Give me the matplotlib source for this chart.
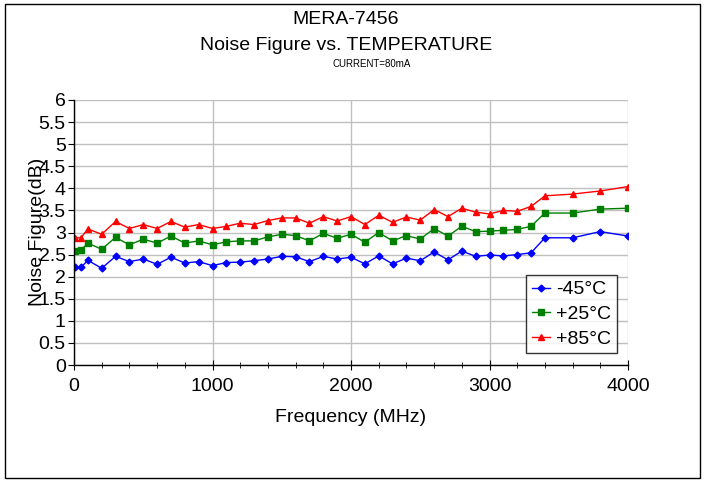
import numpy as np
import matplotlib
matplotlib.use('Agg')
import matplotlib.pyplot as plt
from matplotlib.patches import Rectangle
from matplotlib.ticker import MultipleLocator

plt.rcParams['font.family'] = ['Liberation Sans', 'DejaVu Sans']

# Frecuencias (MHz)
freq = [10, 50, 100, 200, 300, 400, 500, 600, 700, 800, 900, 1000, 1100, 1200,
        1300, 1400, 1500, 1600, 1700, 1800, 1900, 2000, 2100, 2200, 2300, 2400,
        2500, 2600, 2700, 2800, 2900, 3000, 3100, 3200, 3300, 3400, 3600, 3800, 4000]

nf_m45 = [2.22, 2.21, 2.37, 2.19, 2.46, 2.34, 2.40, 2.28, 2.44, 2.31, 2.34, 2.25, 2.32,
          2.33, 2.36, 2.40, 2.46, 2.45, 2.34, 2.46, 2.40, 2.44, 2.29, 2.47, 2.29, 2.42,
          2.36, 2.56, 2.38, 2.58, 2.46, 2.49, 2.47, 2.50, 2.54, 2.88, 2.88, 3.02, 2.92]

nf_p25 = [2.58, 2.60, 2.76, 2.62, 2.89, 2.72, 2.85, 2.76, 2.92, 2.76, 2.81, 2.72, 2.79,
          2.81, 2.81, 2.90, 2.96, 2.93, 2.81, 2.98, 2.87, 2.96, 2.78, 3.00, 2.81, 2.93,
          2.85, 3.09, 2.92, 3.14, 3.02, 3.03, 3.05, 3.07, 3.14, 3.44, 3.44, 3.53, 3.55]

nf_p85 = [2.88, 2.88, 3.08, 2.96, 3.25, 3.09, 3.18, 3.09, 3.25, 3.12, 3.18, 3.09, 3.14,
          3.21, 3.18, 3.27, 3.33, 3.33, 3.21, 3.36, 3.26, 3.36, 3.18, 3.39, 3.23, 3.35,
          3.28, 3.52, 3.36, 3.55, 3.46, 3.42, 3.50, 3.48, 3.59, 3.83, 3.87, 3.94, 4.04]

series_labels = ['-45°C', '+25°C', '+85°C']

fig = plt.figure(figsize=(7.04, 4.82), dpi=100)
ax = fig.add_axes([74/704, 1 - 365/482, (628 - 74)/704, (365 - 100)/482])

ax.plot(freq, nf_m45, color='#0000FF', marker='D', markersize=3.5, linewidth=1, label=series_labels[0])
ax.plot(freq, nf_p25, color='#008000', marker='s', markersize=4.5, linewidth=1, label=series_labels[1])
ax.plot(freq, nf_p85, color='#FF0000', marker='^', markersize=5, linewidth=1, label=series_labels[2])

ax.set_xlim(0, 4000)
ax.set_ylim(0, 6)
ax.xaxis.set_major_locator(MultipleLocator(1000))
ax.xaxis.set_minor_locator(MultipleLocator(200))
ax.set_yticks(np.arange(0, 6.01, 0.5))
ax.set_yticklabels(['0', '0.5', '1', '1.5', '2', '2.5', '3', '3.5', '4', '4.5', '5', '5.5', '6'])

ax.grid(True, which='major', color='#c0c0c0', linewidth=1)
ax.set_axisbelow(True)
for s in ['top', 'right']:
    ax.spines[s].set_visible(False)
ax.spines['left'].set_linewidth(1)
ax.spines['bottom'].set_linewidth(1)

ax.tick_params(axis='x', which='major', direction='inout', length=7, labelsize=14, pad=6)
ax.tick_params(axis='x', which='minor', direction='inout', length=5)
ax.tick_params(axis='y', which='major', direction='out', length=4, labelsize=14, pad=2)

ax.set_xlabel('Frequency (MHz)', fontsize=14, labelpad=10)
fig.text(38/704, 1 - 232/482, 'Noise Figure(dB)', rotation=90, fontsize=14,
         ha='center', va='center')

fig.text(346/704, 1 - 20/482, 'MERA-7456', fontsize=14, ha='center', va='center')
fig.text(346/704, 1 - 45/482, 'Noise Figure vs. TEMPERATURE', fontsize=14, ha='center', va='center')
fig.text(372/704, 1 - 64/482, 'CURRENT=80mA', fontsize=7, ha='center', va='center')

leg = ax.legend(loc='upper left', bbox_to_anchor=((526 - 74)/554, (365 - 275)/265),
                fontsize=14, frameon=True, fancybox=False, handlelength=0.95,
                handletextpad=0.3, borderpad=0.3, labelspacing=0.36, borderaxespad=0)
leg.get_frame().set_edgecolor('black')
leg.get_frame().set_linewidth(1)

fig.patches.append(Rectangle((5/704, 4/482), 695/704, 474/482, transform=fig.transFigure,
                             fill=False, edgecolor='black', linewidth=1))

fig.savefig('out.png', dpi=100)
